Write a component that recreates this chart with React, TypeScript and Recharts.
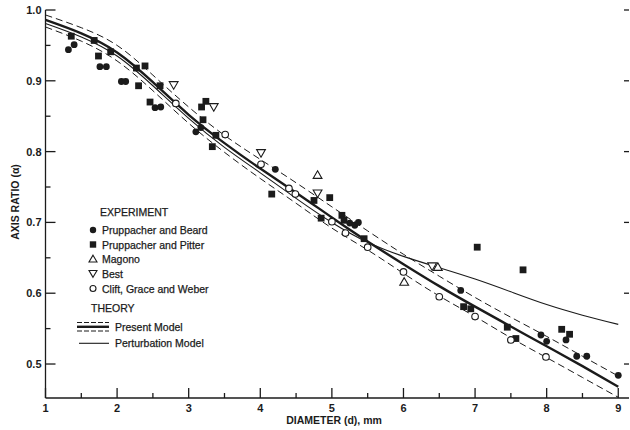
import React from 'react';
import { ComposedChart, XAxis, YAxis, Line, Scatter } from 'recharts';

// ---- axis ticks ----
const xTicks = [1, 1.5, 2, 2.5, 3, 3.5, 4, 4.5, 5, 5.5, 6, 6.5, 7, 7.5, 8, 8.5, 9];
const yTicks = [0.5, 0.55, 0.6, 0.65, 0.7, 0.75, 0.8, 0.85, 0.9, 0.95, 1.0];
const yRightTicks = [0.5, 0.6, 0.7, 0.8, 0.9, 1.0];

// ---- theory curves (diameter, axis ratio) ----
const modelD = [1, 1.5, 2, 2.5, 3, 3.5, 4, 4.5, 5, 5.5, 6, 6.5, 7, 7.5, 8, 8.5, 9];
const presentUpper = [0.993, 0.975, 0.950, 0.908, 0.863, 0.823, 0.789, 0.756, 0.722, 0.688, 0.655, 0.624, 0.594, 0.566, 0.539, 0.511, 0.483];
const presentMid = [0.986, 0.967, 0.940, 0.898, 0.852, 0.812, 0.776, 0.742, 0.707, 0.673, 0.641, 0.610, 0.581, 0.553, 0.525, 0.497, 0.468];
const presentLower = [0.976, 0.956, 0.928, 0.886, 0.840, 0.799, 0.762, 0.727, 0.692, 0.661, 0.628, 0.596, 0.567, 0.537, 0.509, 0.481, 0.453];
const perturbation = [0.981, 0.962, 0.935, 0.893, 0.847, 0.806, 0.770, 0.734, 0.700, 0.672, 0.652, 0.636, 0.620, 0.602, 0.584, 0.569, 0.556];

// ---- experiments ----
const beardD = [1.32, 1.40, 1.76, 1.85, 2.06, 2.12, 2.53, 2.61, 3.10, 3.17, 4.21, 5.25, 5.32, 5.37, 6.80, 7.92, 8.00, 8.27, 8.42, 8.56, 9.00];
const beardA = [0.944, 0.951, 0.920, 0.920, 0.899, 0.899, 0.862, 0.863, 0.828, 0.834, 0.775, 0.699, 0.696, 0.700, 0.604, 0.541, 0.532, 0.534, 0.511, 0.511, 0.484];
const pitterD = [1.36, 1.68, 1.74, 1.91, 2.27, 2.30, 2.39, 2.46, 2.60, 3.18, 3.24, 3.20, 3.33, 3.38, 4.16, 4.75, 4.85, 4.97, 5.14, 5.17, 5.45, 6.84, 6.94, 7.03, 7.45, 7.57, 7.67, 8.21, 8.32];
const pitterA = [0.963, 0.957, 0.935, 0.941, 0.918, 0.893, 0.921, 0.870, 0.893, 0.863, 0.871, 0.845, 0.807, 0.823, 0.740, 0.731, 0.706, 0.735, 0.710, 0.703, 0.677, 0.581, 0.578, 0.665, 0.552, 0.536, 0.633, 0.549, 0.542];
const magonoD = [4.80, 6.01, 6.48];
const magonoA = [0.767, 0.616, 0.637];
const bestD = [2.79, 3.35, 4.01, 4.80, 6.40];
const bestA = [0.894, 0.863, 0.798, 0.741, 0.638];
const cliftD = [2.82, 3.51, 4.01, 4.40, 4.49, 5.00, 5.19, 5.50, 6.00, 6.50, 7.00, 7.50, 7.99];
const cliftA = [0.868, 0.824, 0.782, 0.748, 0.740, 0.701, 0.685, 0.665, 0.630, 0.595, 0.567, 0.534, 0.510];

const toRows = (ds: number[], as: number[]) => ds.map((d, i) => ({ d, a: as[i] }));

const INK = '#1b1b1b';
const FONT = '"Liberation Sans", Arial, Helvetica, sans-serif';

const isMajorX = (v: number) => Math.abs(v - Math.round(v)) < 1e-6;
const isMajorY = (v: number) => Math.abs(v * 10 - Math.round(v * 10)) < 1e-6;

const BottomTick = (p: any) => {
  const { x, y, payload } = p;
  const v = payload.value;
  const major = isMajorX(v);
  return (
    <g>
      <line x1={x} y1={y} x2={x} y2={y - (major ? 10 : 5)} stroke={INK} strokeWidth={1.3} />
      {major && (
        <text x={x} y={y + 14} textAnchor="middle" fontFamily={FONT} fontSize={11} fontWeight="bold" fill={INK}>
          {v}
        </text>
      )}
    </g>
  );
};
const TopTick = (p: any) => {
  const { x, y, payload } = p;
  const major = isMajorX(payload.value);
  return <line x1={x} y1={y} x2={x} y2={y + (major ? 9 : 5)} stroke={INK} strokeWidth={1.3} />;
};
const LeftTick = (p: any) => {
  const { x, y, payload } = p;
  const v = payload.value;
  const major = isMajorY(v);
  return (
    <g>
      <line x1={x} y1={y} x2={x + (major ? 10 : 5)} y2={y} stroke={INK} strokeWidth={1.3} />
      {major && (
        <text x={x - 4} y={y + 4} textAnchor="end" fontFamily={FONT} fontSize={11} fontWeight="bold" fill={INK}>
          {v.toFixed(1)}
        </text>
      )}
    </g>
  );
};
const RightTick = (p: any) => {
  const { x, y } = p;
  return <line x1={x} y1={y} x2={x - 5} y2={y} stroke={INK} strokeWidth={1.3} />;
};

const FilledCircle = (p: any) => <circle cx={p.cx} cy={p.cy} r={3.4} fill={INK} />;
const FilledSquare = (p: any) => <rect x={p.cx - 3.4} y={p.cy - 3.4} width={6.8} height={6.8} fill={INK} />;
const OpenCircle = (p: any) => <circle cx={p.cx} cy={p.cy} r={3.3} fill="#fff" stroke={INK} strokeWidth={1.1} />;
const UpTri = (p: any) => (
  <path d={`M${p.cx},${p.cy - 4.2} L${p.cx + 4.4},${p.cy + 3.4} L${p.cx - 4.4},${p.cy + 3.4} Z`} fill="#fff" stroke={INK} strokeWidth={1.1} />
);
const DownTri = (p: any) => (
  <path d={`M${p.cx},${p.cy + 4.2} L${p.cx + 4.4},${p.cy - 3.4} L${p.cx - 4.4},${p.cy - 3.4} Z`} fill="#fff" stroke={INK} strokeWidth={1.1} />
);

const Legend = () => {
  const t = { fontFamily: FONT, fontSize: 10.5, fill: INK, stroke: INK, strokeWidth: 0.25 } as any;
  const rows = [
    { y: 230, label: 'Pruppacher and Beard', s: 'fc' },
    { y: 244.5, label: 'Pruppacher and Pitter', s: 'fs' },
    { y: 259, label: 'Magono', s: 'ut' },
    { y: 273.5, label: 'Best', s: 'dt' },
    { y: 288.5, label: 'Clift, Grace and Weber', s: 'oc' },
  ];
  const sym = (s: string, cx: number, cy: number) => {
    if (s === 'fc') return <circle cx={cx} cy={cy} r={3.2} fill={INK} />;
    if (s === 'fs') return <rect x={cx - 3.2} y={cy - 3.2} width={6.4} height={6.4} fill={INK} />;
    if (s === 'oc') return <circle cx={cx} cy={cy} r={3} fill="#fff" stroke={INK} strokeWidth={1.1} />;
    if (s === 'ut')
      return <path d={`M${cx},${cy - 3.8} L${cx + 4},${cy + 3} L${cx - 4},${cy + 3} Z`} fill="#fff" stroke={INK} strokeWidth={1.1} />;
    return <path d={`M${cx},${cy + 3.8} L${cx + 4},${cy - 3} L${cx - 4},${cy - 3} Z`} fill="#fff" stroke={INK} strokeWidth={1.1} />;
  };
  return (
    <svg width={630} height={430} style={{ position: 'absolute', left: 0, top: 0, pointerEvents: 'none' }}>
      <text x={100} y={216} {...t}>EXPERIMENT</text>
      {rows.map((r) => (
        <g key={r.label}>
          {sym(r.s, 93, r.y)}
          <text x={102} y={r.y + 4} {...t}>{r.label}</text>
        </g>
      ))}
      <text x={91} y={312} {...t}>THEORY</text>
      <line x1={77} y1={322.5} x2={109} y2={322.5} stroke={INK} strokeWidth={1} strokeDasharray="5 2" />
      <line x1={77} y1={326.8} x2={109} y2={326.8} stroke={INK} strokeWidth={2.4} />
      <line x1={77} y1={331} x2={109} y2={331} stroke={INK} strokeWidth={1} strokeDasharray="5 2" />
      <text x={115} y={330.5} {...t}>Present Model</text>
      <line x1={79} y1={343.3} x2={109} y2={343.3} stroke={INK} strokeWidth={1.1} />
      <text x={115} y={347} {...t}>Perturbation Model</text>
      <text x={334} y={424} textAnchor="middle" fontFamily={FONT} fontSize={10.5} fontWeight="bold" fill={INK}>
        DIAMETER (d), mm
      </text>
      <text x={19} y={202} textAnchor="middle" transform="rotate(-90 19 202)" fontFamily={FONT} fontSize={10.5} fontWeight="bold" fill={INK}>
        AXIS RATIO (α)
      </text>
    </svg>
  );
};

export default function App() {
  return (
    <div style={{ position: 'absolute', left: 0, top: 0, width: 630, height: 430, background: '#fff' }}>
      <ComposedChart width={630} height={430} margin={{ top: 10, right: 0, bottom: 0, left: 0 }}>
        <XAxis
          xAxisId={0}
          dataKey="d"
          type="number"
          domain={[1, 9.15]}
          allowDataOverflow
          ticks={xTicks}
          interval={0}
          tickSize={0}
          tickMargin={0}
          tickLine={false}
          tick={<BottomTick />}
          height={32}
          axisLine={{ stroke: INK, strokeWidth: 1.3 }}
        />
        <XAxis
          xAxisId="top"
          orientation="top"
          type="number"
          domain={[1, 9.15]}
          allowDataOverflow
          ticks={xTicks}
          interval={0}
          tickSize={0}
          tickMargin={0}
          tickLine={false}
          tick={<TopTick />}
          height={0}
          axisLine={{ stroke: INK, strokeWidth: 1.3 }}
        />
        <YAxis
          yAxisId={0}
          dataKey="a"
          type="number"
          domain={[0.452, 1.0]}
          allowDataOverflow
          ticks={yTicks}
          interval={0}
          tickSize={0}
          tickMargin={0}
          tickLine={false}
          tick={<LeftTick />}
          width={45.5}
          axisLine={{ stroke: INK, strokeWidth: 1.3 }}
        />
        <YAxis
          yAxisId="right"
          orientation="right"
          type="number"
          domain={[0.452, 1.0]}
          allowDataOverflow
          ticks={yRightTicks}
          interval={0}
          tickSize={0}
          tickMargin={0}
          tickLine={false}
          tick={<RightTick />}
          width={1}
          axisLine={false}
        />
        <Line data={toRows(modelD, presentUpper)} dataKey="a" type="natural" stroke={INK} strokeWidth={1} strokeDasharray="7 4" dot={false} isAnimationActive={false} />
        <Line data={toRows(modelD, presentLower)} dataKey="a" type="natural" stroke={INK} strokeWidth={1} strokeDasharray="7 4" dot={false} isAnimationActive={false} />
        <Line data={toRows(modelD, perturbation)} dataKey="a" type="natural" stroke={INK} strokeWidth={1.1} dot={false} isAnimationActive={false} />
        <Line data={toRows(modelD, presentMid)} dataKey="a" type="natural" stroke={INK} strokeWidth={2.4} dot={false} isAnimationActive={false} />
        <Scatter data={toRows(beardD, beardA)} dataKey="a" shape={<FilledCircle />} isAnimationActive={false} />
        <Scatter data={toRows(pitterD, pitterA)} dataKey="a" shape={<FilledSquare />} isAnimationActive={false} />
        <Scatter data={toRows(magonoD, magonoA)} dataKey="a" shape={<UpTri />} isAnimationActive={false} />
        <Scatter data={toRows(bestD, bestA)} dataKey="a" shape={<DownTri />} isAnimationActive={false} />
        <Scatter data={toRows(cliftD, cliftA)} dataKey="a" shape={<OpenCircle />} isAnimationActive={false} />
      </ComposedChart>
      <Legend />
    </div>
  );
}
